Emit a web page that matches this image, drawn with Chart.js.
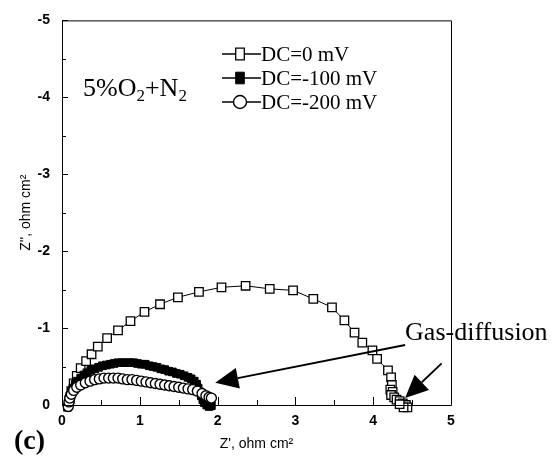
<!DOCTYPE html>
<html><head><meta charset="utf-8">
<script src="https://cdn.jsdelivr.net/npm/chart.js@4/dist/chart.umd.min.js"></script>
<style>html,body{margin:0;padding:0;background:#fff;}#wrap{width:555px;height:457px;position:relative;}</style>
</head><body><div id="wrap"><canvas id="c" width="555" height="457"></canvas></div>
<script>
// ---- data ----
const seriesNames = ['DC=0 mV', 'DC=-100 mV', 'DC=-200 mV'];

const dc0X = [0.10,0.12,0.15,0.19,0.24,0.31,0.38,0.46,0.58,0.72,0.88,1.06,1.26,1.49,1.76,2.05,2.36,2.67,2.97,3.23,3.47,3.63,3.76,3.86,3.99,4.05,4.19,4.23,4.24,4.22,4.25,4.23,4.27,4.30,4.34,4.38,4.42,4.44,4.39,4.34];
const dc0Y = [-0.08,-0.18,-0.28,-0.38,-0.48,-0.57,-0.66,-0.76,-0.87,-0.97,-1.09,-1.21,-1.31,-1.40,-1.47,-1.53,-1.55,-1.51,-1.49,-1.38,-1.27,-1.10,-0.94,-0.81,-0.71,-0.60,-0.45,-0.36,-0.26,-0.20,-0.17,-0.13,-0.10,-0.07,-0.05,-0.02,0.00,0.03,0.03,-0.01];

const dc100X = [0.07,0.08,0.09,0.10,0.12,0.14,0.17,0.20,0.24,0.28,0.32,0.37,0.42,0.47,0.52,0.57,0.62,0.67,0.72,0.77,0.82,0.87,0.92,0.97,1.02,1.07,1.12,1.17,1.22,1.27,1.32,1.37,1.42,1.47,1.52,1.57,1.62,1.66,1.70,1.73,1.75,1.77,1.79,1.81,1.83,1.86,1.89,1.92];
const dc100Y = [0.03,-0.02,-0.07,-0.12,-0.17,-0.22,-0.27,-0.31,-0.35,-0.39,-0.42,-0.45,-0.47,-0.49,-0.51,-0.52,-0.53,-0.54,-0.55,-0.55,-0.55,-0.55,-0.55,-0.54,-0.53,-0.53,-0.51,-0.50,-0.49,-0.47,-0.46,-0.44,-0.43,-0.41,-0.40,-0.38,-0.36,-0.34,-0.31,-0.27,-0.22,-0.17,-0.12,-0.07,-0.03,0.00,0.02,0.01];

const dc200X = [0.08,0.09,0.10,0.12,0.15,0.19,0.24,0.30,0.36,0.42,0.48,0.54,0.60,0.66,0.72,0.78,0.84,0.90,0.96,1.02,1.08,1.14,1.20,1.26,1.32,1.38,1.44,1.50,1.56,1.62,1.68,1.74,1.80,1.85,1.89,1.92];
const dc200Y = [0.02,-0.04,-0.09,-0.14,-0.19,-0.23,-0.26,-0.29,-0.31,-0.33,-0.34,-0.35,-0.35,-0.35,-0.35,-0.34,-0.33,-0.33,-0.32,-0.31,-0.30,-0.29,-0.28,-0.27,-0.26,-0.25,-0.24,-0.23,-0.22,-0.21,-0.20,-0.18,-0.15,-0.12,-0.10,-0.09];

const xTickValues = [0,1,2,3,4,5];
const yTickValues = [-5,-4,-3,-2,-1,0];
const xMinorTicks = [0.5,1.5,2.5,3.5,4.5];
const yMinorTicks = [-4.5,-3.5,-2.5,-1.5,-0.5];

const gasArrows = [ // [fromX, fromY, toX, toY] in data units
  [4.41,-0.78,1.97,-0.29],
  [4.88,-0.54,4.41,-0.09]
];

function pts(xs, ys){ return xs.map((x,i)=>({x:x, y:ys[i]})); }

const SERIF = '"Liberation Serif","Times New Roman",serif';
const SANS = '"Liberation Sans",Arial,sans-serif';

const markerDefs = [
  {style:'rect', fill:'#fff', radius:6.0, bw:1.3},
  {style:'rect', fill:'#000', radius:5.4, bw:1},
  {style:'circle', fill:'#fff', radius:5.0, bw:1.4}
];

const decor = {
  id:'decor',
  afterDraw(chart){
    const ctx = chart.ctx, ca = chart.chartArea;
    const xs = chart.scales.x, ys = chart.scales.y;
    ctx.save();
    // frame
    ctx.strokeStyle = '#000'; ctx.lineWidth = 1;
    ctx.beginPath();
    ctx.moveTo(ca.left+0.5, ca.top+0.5); ctx.lineTo(ca.right+0.5, ca.top+0.5);
    ctx.lineTo(ca.right+0.5, ca.bottom+0.5); ctx.lineTo(ca.left+0.5, ca.bottom+0.5);
    ctx.closePath(); ctx.stroke();
    // inward ticks
    ctx.beginPath();
    xTickValues.forEach(v=>{ const p = Math.round(xs.getPixelForValue(v))+0.5; ctx.moveTo(p, ca.bottom); ctx.lineTo(p, ca.bottom-8); });
    xMinorTicks.forEach(v=>{ const p = Math.round(xs.getPixelForValue(v))+0.5; ctx.moveTo(p, ca.bottom); ctx.lineTo(p, ca.bottom-5); });
    yTickValues.forEach(v=>{ const p = Math.round(ys.getPixelForValue(v))+0.5; ctx.moveTo(ca.left, p); ctx.lineTo(ca.left+6, p); });
    yMinorTicks.forEach(v=>{ const p = Math.round(ys.getPixelForValue(v))+0.5; ctx.moveTo(ca.left, p); ctx.lineTo(ca.left+4, p); });
    ctx.stroke();

    // legend
    const lx0 = 222, lx1 = 261, lmid = 240, rows = [54,78,102];
    seriesNames.forEach((name,i)=>{
      const y = rows[i], m = markerDefs[i];
      ctx.strokeStyle = '#000'; ctx.lineWidth = 1.3;
      ctx.beginPath(); ctx.moveTo(lx0, y); ctx.lineTo(lx1, y); ctx.stroke();
      ctx.fillStyle = m.fill; ctx.lineWidth = m.bw;
      ctx.beginPath();
      if (m.style === 'rect') { const s = 4.3; ctx.rect(lmid-s, y-s-1.5, 2*s, 2*s+3); }
      else { ctx.arc(lmid, y, 6.5, 0, Math.PI*2); }
      ctx.fill(); ctx.stroke();
      ctx.fillStyle = '#000';
      ctx.font = '21px ' + SERIF; ctx.textBaseline = 'middle'; ctx.textAlign = 'left';
      ctx.fillText(name, lx1, y+1);
    });

    // "5%O2+N2"
    ctx.fillStyle = '#000'; ctx.textBaseline = 'alphabetic'; ctx.textAlign = 'left';
    let tx = xs.getPixelForValue(0.27), ty = ys.getPixelForValue(-4.02);
    const parts = [['5%O',0,26],['2',5,17],['+N',0,26],['2',5,17]];
    parts.forEach(p=>{ ctx.font = p[2]+'px '+SERIF; ctx.fillText(p[0], tx, ty+p[1]); tx += ctx.measureText(p[0]).width; });

    // Gas-diffusion label
    ctx.font = '26px ' + SERIF; ctx.textBaseline = 'middle';
    ctx.fillText('Gas-diffusion', xs.getPixelForValue(4.41), ys.getPixelForValue(-0.94));

    // arrows
    gasArrows.forEach(a=>{
      const x0 = xs.getPixelForValue(a[0]), y0 = ys.getPixelForValue(a[1]);
      const x1 = xs.getPixelForValue(a[2]), y1 = ys.getPixelForValue(a[3]);
      const ang = Math.atan2(y1-y0, x1-x0), L = 23, W = 10.5;
      const bx = x1 - L*Math.cos(ang), by = y1 - L*Math.sin(ang);
      ctx.strokeStyle = '#000'; ctx.lineWidth = 1.8;
      ctx.beginPath(); ctx.moveTo(x0,y0); ctx.lineTo(bx,by); ctx.stroke();
      ctx.fillStyle = '#000';
      ctx.beginPath(); ctx.moveTo(x1,y1);
      ctx.lineTo(bx + W*Math.sin(ang), by - W*Math.cos(ang));
      ctx.lineTo(bx - W*Math.sin(ang), by + W*Math.cos(ang));
      ctx.closePath(); ctx.fill();
    });

    // panel label
    ctx.font = 'bold 28px ' + SERIF; ctx.textBaseline = 'middle'; ctx.textAlign = 'left';
    ctx.fillText('(c)', 14, 442);
    ctx.restore();
  }
};

function ds(label, xs, ys, i, order){
  const m = markerDefs[i];
  return {label, data: pts(xs, ys), showLine:true, borderColor:'#000', borderWidth:1,
    pointStyle:m.style, pointRadius:m.radius, pointBackgroundColor:m.fill,
    pointBorderColor:'#000', pointBorderWidth:m.bw, tension:0, order, clip:12};
}

new Chart(document.getElementById('c'), {
  type:'scatter',
  data:{ datasets:[
    ds(seriesNames[0], dc0X, dc0Y, 0, 2),
    ds(seriesNames[1], dc100X, dc100Y, 1, 1),
    ds(seriesNames[2], dc200X, dc200Y, 2, 0)
  ]},
  options:{
    responsive:false, animation:false, devicePixelRatio:1,
    layout:{padding:{left:0, top:14, right:104, bottom:0}},
    plugins:{legend:{display:false}, tooltip:{enabled:false}},
    scales:{
      x:{type:'linear', min:0, max:5, position:'bottom',
        afterFit:s=>{s.height=52;},
        afterBuildTicks:s=>{s.ticks = xTickValues.map(v=>({value:v}));},
        grid:{display:false, drawTicks:false}, border:{display:false},
        ticks:{color:'#000', font:{family:SANS, size:14, weight:'bold'}, padding:8},
        title:{display:true, text:"Z', ohm cm\u00B2", color:'#000', font:{family:SANS, size:14}, padding:{top:0,bottom:4}}
      },
      y:{type:'linear', min:-5, max:0, reverse:true, position:'left',
        afterFit:s=>{s.width=62;},
        afterBuildTicks:s=>{s.ticks = yTickValues.map(v=>({value:v}));},
        grid:{display:false, drawTicks:false}, border:{display:false},
        ticks:{color:'#000', font:{family:SANS, size:14, weight:'bold'}, padding:12},
        title:{display:true, text:"Z'', ohm cm\u00B2", color:'#000', font:{family:SANS, size:14}, padding:{top:18,bottom:0}}
      }
    }
  },
  plugins:[decor]
});
</script></body></html>
